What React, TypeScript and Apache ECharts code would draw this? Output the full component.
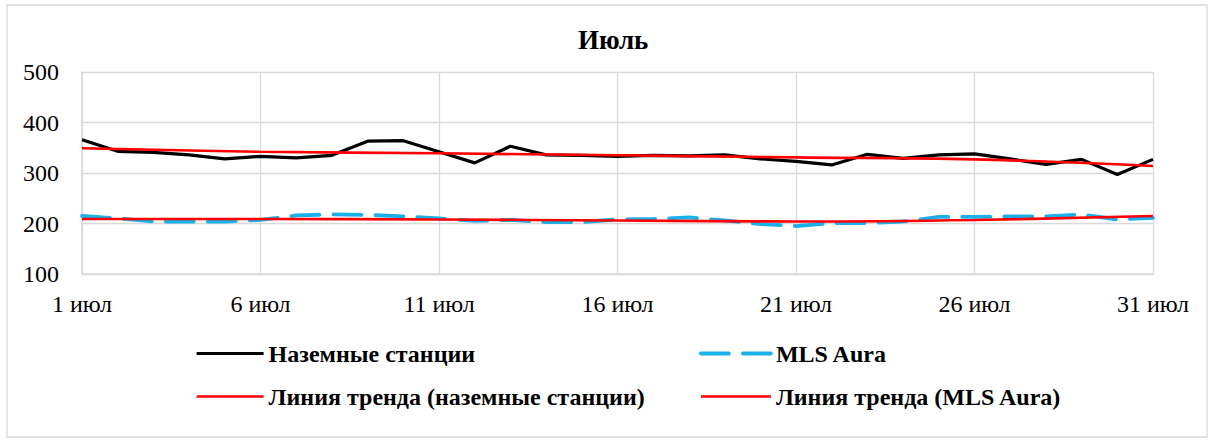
import React, { useEffect, useRef } from "react";
import * as echarts from "echarts";

const days: string[] = [
  "1 июл", "2 июл", "3 июл", "4 июл", "5 июл", "6 июл", "7 июл", "8 июл", "9 июл", "10 июл",
  "11 июл", "12 июл", "13 июл", "14 июл", "15 июл", "16 июл", "17 июл", "18 июл", "19 июл", "20 июл",
  "21 июл", "22 июл", "23 июл", "24 июл", "25 июл", "26 июл", "27 июл", "28 июл", "29 июл", "30 июл",
  "31 июл",
];

const groundStations: number[] = [
  366, 343, 341, 336, 328, 333, 330, 335, 363, 364,
  342, 320, 353, 336, 335, 333, 335, 334, 336, 328,
  323, 316, 337, 329, 336, 338, 328, 317, 327, 297,
  327,
];

const mlsAura: number[] = [
  215, 210, 204, 204, 204, 207, 216, 218, 217, 214,
  210, 205, 207, 203, 203, 208, 209, 212, 206, 199,
  195, 201, 201, 204, 213, 213, 214, 214, 218, 208,
  211,
];

// trend line values read at every 5th day
const trendDays: string[] = ["1 июл", "6 июл", "11 июл", "16 июл", "21 июл", "26 июл", "31 июл"];
const groundTrend: number[] = [349, 342, 339, 335, 331, 327, 314];
const mlsTrend: number[] = [209, 209, 208, 206, 204, 207, 215];

const yTicks = { min: 100, max: 500, interval: 100 };

const FONT = "Liberation Serif, serif";

export default function App() {
  const ref = useRef<HTMLDivElement>(null);

  useEffect(() => {
    if (!ref.current) return;
    const chart = echarts.init(ref.current, undefined, { renderer: "svg" });
    const gridColor = "#d9d9d9";
    const legendCommon = {
      orient: "vertical",
      top: 340,
      padding: 0,
      itemHeight: 14,
      itemGap: 16,
      itemStyle: { opacity: 0 },
      lineStyle: { width: "inherit", type: "inherit" },
      textStyle: { fontFamily: FONT, fontSize: 24, fontWeight: "bold", color: "#000", lineHeight: 27 },
    };
    chart.setOption({
      animation: false,
      backgroundColor: "#ffffff",
      textStyle: { fontFamily: FONT },
      title: {
        text: "Июль",
        left: 573,
        top: 21,
        textStyle: { fontFamily: FONT, fontSize: 27, fontWeight: "bold", color: "#000" },
      },
      graphic: [
        {
          type: "rect",
          shape: { x: 7, y: 5, width: 1200, height: 432 },
          style: { fill: "none", stroke: gridColor, lineWidth: 1.3 },
          silent: true,
        },
      ],
      grid: { left: 82, right: 61, top: 72, bottom: 169, containLabel: false },
      xAxis: {
        type: "category",
        data: days,
        boundaryGap: false,
        axisLine: { show: true, lineStyle: { color: gridColor, width: 1.5 } },
        axisTick: { show: false },
        axisLabel: {
          interval: 4,
          margin: 18,
          fontFamily: FONT,
          fontSize: 24,
          color: "#000",
        },
        splitLine: { show: true, interval: 4, lineStyle: { color: gridColor, width: 1.3 } },
      },
      yAxis: {
        type: "value",
        min: yTicks.min,
        max: yTicks.max,
        interval: yTicks.interval,
        axisLine: { show: true, lineStyle: { color: gridColor, width: 1.5 } },
        axisTick: { show: false },
        axisLabel: { margin: 23, fontFamily: FONT, fontSize: 24, color: "#000" },
        splitLine: { show: true, lineStyle: { color: gridColor, width: 1.3 } },
      },
      legend: [
        {
          ...legendCommon,
          left: 195,
          itemWidth: 67,
          data: ["Наземные станции", "Линия тренда (наземные станции)"],
        },
        {
          ...legendCommon,
          left: 699,
          itemWidth: 70,
          data: ["MLS Aura", "Линия тренда (MLS Aura)"],
        },
      ],
      series: [
        {
          name: "Наземные станции",
          type: "line",
          data: groundStations,
          symbol: "none",
          lineStyle: { color: "#000000", width: 3.2 },
          itemStyle: { color: "#000000" },
        },
        {
          name: "MLS Aura",
          type: "line",
          data: mlsAura,
          symbol: "none",
          lineStyle: { color: "#1cb0ea", width: 3.8, type: [28, 14], cap: "round" },
          itemStyle: { color: "#1cb0ea" },
        },
        {
          name: "Линия тренда (наземные станции)",
          type: "line",
          data: trendDays.map((d, i) => [d, groundTrend[i]]),
          symbol: "none",
          smooth: 0.4,
          lineStyle: { color: "#ff0000", width: 2.6 },
          itemStyle: { color: "#ff0000" },
        },
        {
          name: "Линия тренда (MLS Aura)",
          type: "line",
          data: trendDays.map((d, i) => [d, mlsTrend[i]]),
          symbol: "none",
          smooth: 0.4,
          lineStyle: { color: "#ff0000", width: 2.6 },
          itemStyle: { color: "#ff0000" },
        },
      ],
    });
    return () => chart.dispose();
  }, []);

  return (
    <div
      ref={ref}
      style={{ position: "fixed", left: 0, top: 0, width: 1214, height: 443, background: "#fff" }}
    />
  );
}
